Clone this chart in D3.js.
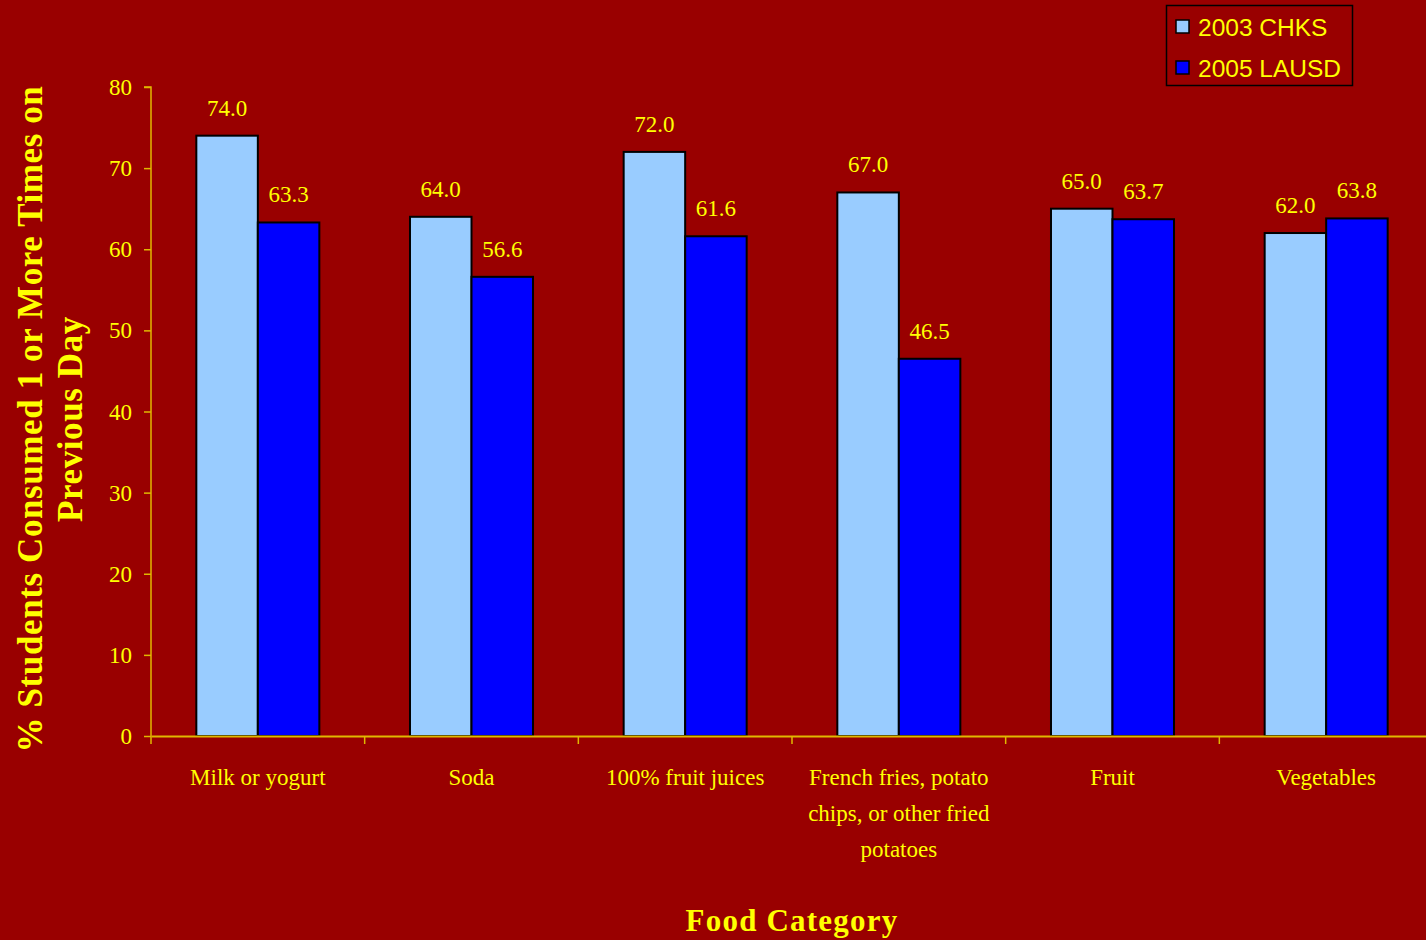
<!DOCTYPE html>
<html><head><meta charset="utf-8">
<script src="https://cdn.jsdelivr.net/npm/d3@7"></script>
<style>body{margin:0;background:#990000;}svg{display:block;}</style>
</head><body><svg id="c" width="1426" height="940"></svg>
<script>
const categories = ["Milk or yogurt","Soda","100% fruit juices","French fries, potato\nchips, or other fried\npotatoes","Fruit","Vegetables"];
const seriesNames = ["2003 CHKS","2005 LAUSD"];
const chks2003 = [74.0,64.0,72.0,67.0,65.0,62.0];
const lausd2005 = [63.3,56.6,61.6,46.5,63.7,63.8];
const yTicks = [0,10,20,30,40,50,60,70,80];
const colors = ["#99CCFF","#0000FF"];

(function(){
const svg = d3.select("#c");
const W = 1426, H = 940;
svg.append("rect").attr("width",W).attr("height",H).attr("fill","#990000");
const pL = 151, pR = 1433, pT = 87, pB = 736;
const axisColor = "#E0B800", txt = "#FFFF00";

const y = d3.scaleLinear().domain([0,80]).range([pB, pT]);
const x0 = d3.scaleBand().domain(categories).range([pL, pR]).paddingInner(0).paddingOuter(0);
const x1 = d3.scaleBand().domain(seriesNames).range([0, x0.bandwidth()]).paddingInner(0).paddingOuter(0.737);

const data = categories.map((c,i)=>({cat:c, vals:[chks2003[i], lausd2005[i]]}));

const g = svg.append("g");
data.forEach(d=>{
  seriesNames.forEach((s,j)=>{
    const v = d.vals[j];
    const bx = x0(d.cat)+x1(s);
    g.append("rect").attr("x",bx).attr("y",y(v)).attr("width",x1.bandwidth()).attr("height",y(0)-y(v))
      .attr("fill",colors[j]).attr("stroke","#000").attr("stroke-width",2);
    g.append("text").attr("x",bx+x1.bandwidth()/2).attr("y",y(v)-20).attr("text-anchor","middle")
      .attr("font-family","Liberation Serif").attr("font-size",23).attr("fill",txt).text(v.toFixed(1));
  });
});

const yAxis = svg.append("g").attr("transform",`translate(${pL},0)`)
  .call(d3.axisLeft(y).tickValues(yTicks).tickSize(7).tickPadding(12).tickFormat(d3.format("d")));
yAxis.select(".domain").attr("stroke",axisColor).attr("stroke-width",1.5).attr("d",`M-7,${pT}H0V${pB}`);
yAxis.selectAll(".tick line").attr("stroke",axisColor).attr("stroke-width",1.5);
yAxis.selectAll(".tick text").attr("fill",txt).attr("font-family","Liberation Serif").attr("font-size",23).attr("dy","0.33em");

const xAxis = svg.append("g").attr("transform",`translate(0,${pB})`)
  .call(d3.axisBottom(x0).tickSize(0).tickFormat(""));
xAxis.select(".domain").attr("stroke",axisColor).attr("stroke-width",2);
xAxis.selectAll(".tick line").remove();
const bounds = categories.map(c=>x0(c));
svg.append("g").selectAll("line").data(bounds).join("line")
  .attr("x1",d=>d).attr("x2",d=>d).attr("y1",pB).attr("y2",pB+8)
  .attr("stroke",axisColor).attr("stroke-width",1.5);

categories.forEach(c=>{
  const lines = c.split("\n");
  const t = svg.append("text").attr("text-anchor","middle").attr("font-family","Liberation Serif")
    .attr("font-size",23).attr("fill",txt);
  lines.forEach((l,i)=>t.append("tspan").attr("x",x0(c)+x0.bandwidth()/2).attr("y",785+i*36).text(l));
});

svg.append("text").attr("x",792).attr("y",931).attr("text-anchor","middle").attr("font-family","Liberation Serif")
  .attr("font-weight","bold").attr("font-size",31).attr("fill",txt).attr("letter-spacing",1.2).text("Food Category");
const yt = svg.append("text").attr("transform","translate(0,419) rotate(-90)").attr("text-anchor","middle")
  .attr("font-family","Liberation Serif").attr("font-weight","bold").attr("font-size",35).attr("fill",txt)
  .attr("letter-spacing",0.6);
yt.append("tspan").attr("x",0).attr("y",42).text("% Students Consumed 1 or More Times on");
yt.append("tspan").attr("x",0).attr("y",82).text("Previous Day");

const lg = svg.append("g");
lg.append("rect").attr("x",1166.5).attr("y",5.5).attr("width",186).attr("height",80).attr("fill","none").attr("stroke","#000").attr("stroke-width",1.5);
seriesNames.forEach((s,i)=>{
  lg.append("rect").attr("x",1176).attr("y",20+i*41).attr("width",13).attr("height",13).attr("fill",colors[i]).attr("stroke","#000").attr("stroke-width",1.5);
  lg.append("text").attr("x",1198).attr("y",36+i*41).attr("font-family","Liberation Sans").attr("font-size",24.5).attr("fill",txt).text(s);
});
})();
</script></body></html>
